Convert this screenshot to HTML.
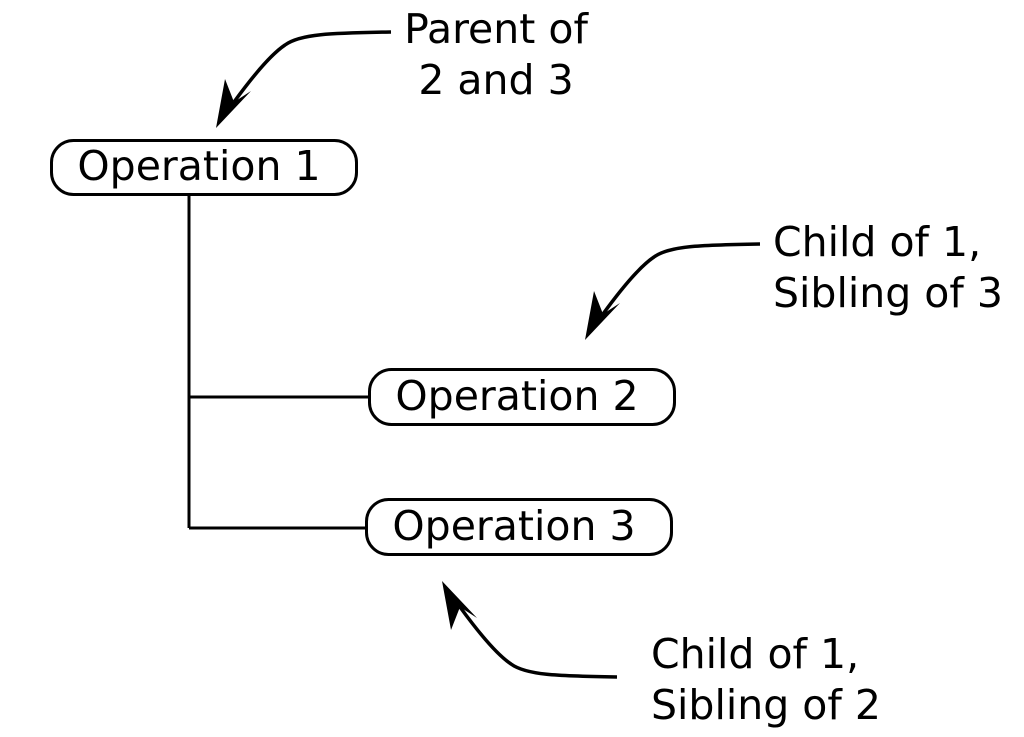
<!DOCTYPE html>
<html><head><style>html,body{margin:0;padding:0;background:#fff}svg{display:block}</style></head>
<body>
<svg width="1024" height="737" viewBox="0 0 1024 737" xmlns="http://www.w3.org/2000/svg" font-family="DejaVu Sans, Liberation Sans, sans-serif" font-size="41" fill="#000">
<g fill="none" stroke="#000" stroke-width="3">
<rect x="51.5" y="140.5" width="305" height="54" rx="22"/>
<rect x="369.5" y="369.5" width="305" height="55" rx="22"/>
<rect x="366.5" y="499.5" width="305" height="55" rx="22"/>
<path d="M189,194 V528 M189,397 H369 M189,528 H366"/>
</g>
<defs>
<g id="arr">
<path d="M391,32 C330,33 300,34 285,45 C270,55 250,80 234,102" fill="none" stroke="#000" stroke-width="3.5"/>
<polygon points="216,128 225,79 234,102 251,91" fill="#000"/>
</g>
</defs>
<use href="#arr"/>
<use href="#arr" transform="translate(369,212)"/>
<use href="#arr" transform="translate(226,709) scale(1,-1)"/>
<text x="199" y="180" text-anchor="middle">Operation 1</text>
<text x="517" y="410" text-anchor="middle">Operation 2</text>
<text x="514" y="540" text-anchor="middle">Operation 3</text>
<text x="496" y="43" text-anchor="middle">Parent of</text>
<text x="496" y="94" text-anchor="middle">2 and 3</text>
<text x="773" y="256">Child of 1,</text>
<text x="773" y="307">Sibling of 3</text>
<text x="651" y="668">Child of 1,</text>
<text x="651" y="719">Sibling of 2</text>
</svg>
</body></html>
